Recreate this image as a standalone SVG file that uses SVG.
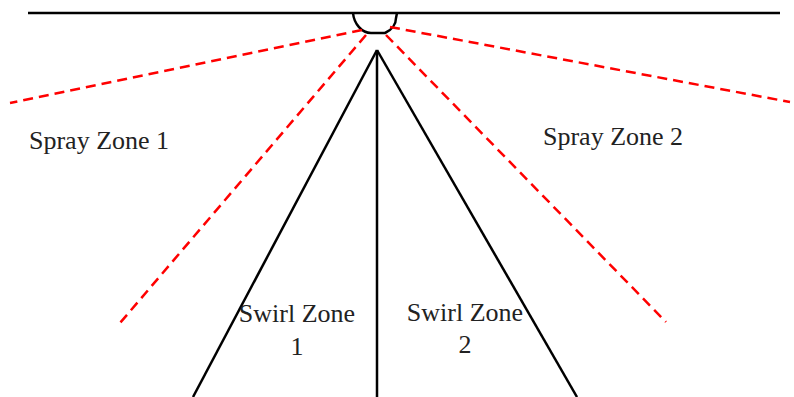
<svg xmlns="http://www.w3.org/2000/svg" width="794" height="397" viewBox="0 0 794 397">
<style>
.blk{stroke:#000;stroke-width:2.5;fill:none}
.spray{stroke:#f00;stroke-width:2.5;fill:none;stroke-dasharray:10 6}
.lbl{font-family:"Liberation Serif","Times New Roman",serif;font-size:26px;fill:#222}
</style>
<rect width="794" height="397" fill="#fff"/>
<g id="nozzle">
<line class="blk" x1="28" y1="13" x2="780" y2="13"/>
<path class="blk" d="M353,13 C354,24 362,33 371,33 L385,33 C392,30 396,24 396,18 L397,13"/>
</g>
<g id="connectors">
<line class="spray" x1="362" y1="30" x2="10" y2="103"/>
<line class="spray" x1="366" y1="35" x2="120" y2="323"/>
<line class="spray" x1="390" y1="27" x2="790" y2="102"/>
<line class="spray" x1="386" y1="35" x2="666" y2="322"/>
<line class="blk" x1="377" y1="50" x2="193" y2="397"/>
<line class="blk" x1="377" y1="50" x2="577" y2="397"/>
<line class="blk" x1="377" y1="50" x2="377" y2="397"/>
</g>
<g id="spray-zone-1"><text class="lbl" x="29" y="149">Spray Zone 1</text></g>
<g id="spray-zone-2"><text class="lbl" x="543" y="145">Spray Zone 2</text></g>
<g id="swirl-zone-1"><text class="lbl" text-anchor="middle" x="297" y="322">Swirl Zone</text><text class="lbl" text-anchor="middle" x="297" y="355">1</text></g>
<g id="swirl-zone-2"><text class="lbl" text-anchor="middle" x="465" y="321">Swirl Zone</text><text class="lbl" text-anchor="middle" x="465" y="353">2</text></g>
</svg>
